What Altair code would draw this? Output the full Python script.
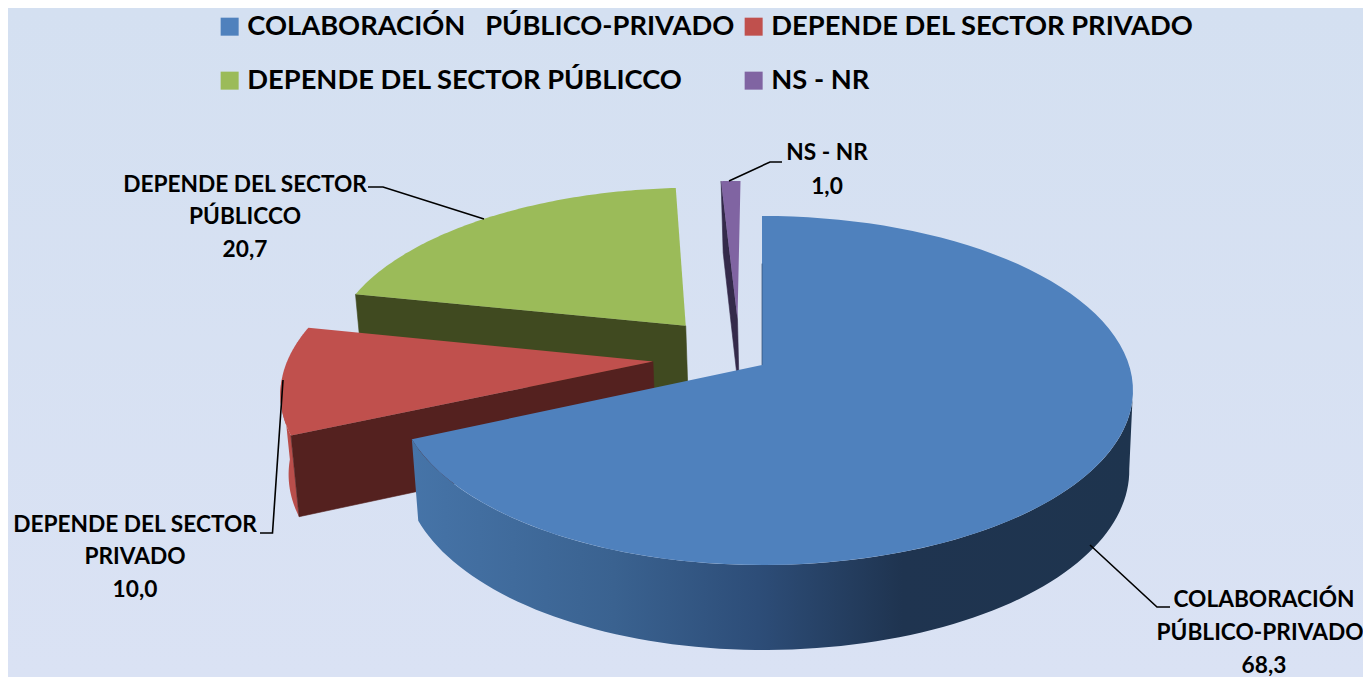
import numpy as np
import pandas as pd
import altair as alt

categories = ["COLABORACIÓN \u00a0 PÚBLICO-PRIVADO", "DEPENDE DEL SECTOR PRIVADO", "DEPENDE DEL SECTOR PÚBLICCO", "NS - NR"]
values = [68.3, 10.0, 20.7, 1.0]
colors = ["#4f81bd", "#c0504d", "#9bbb59", "#8064a2"]
dark_red = "#54211f"
dark_green = "#404a20"
dark_purple = "#342a4a"
side_red = "#b94e4b"

# slice offset (explosion) on the pie plane
explode = {0: (0.0, 0.0), 1: (-0.298, 0.02), 2: (-0.215, 0.238), 3: (-0.0695, 0.279)}
radius = {0: 1.0, 1: 1.0, 2: 0.985, 3: 1.0}

W, H = 1355, 669
AX, AY, A, B, K = 762.0, 365.0, 367.0, 170.8, 0.146

cum = np.concatenate([[0], np.cumsum(values)]) / sum(values) * 360.0


def proj(X, Y):
    w = 1 + K * Y
    return AX + A * X / w, AY - B * Y / w


def low(X, Y):
    x, y = proj(X, Y)
    return AX + (x - AX) * 0.986 + 1.5, y + 79 - 6 * Y


def rim(i, a0, a1, n=90):
    t = np.radians(np.linspace(a0, a1, n))
    ox, oy = explode[i]
    sx = np.sin(t)
    if i == 0:
        sx = np.where(sx < 0, sx * 0.983, sx)
    return ox + radius[i] * sx, oy + radius[i] * np.cos(t)


def frame(xs, ys, cat=None):
    d = pd.DataFrame({"x": xs, "y": ys, "i": np.arange(len(xs))})
    if cat is not None:
        d["cat"] = cat
    return d


x_scale = alt.Scale(domain=[8, 8 + W], nice=False, zero=False)
y_scale = alt.Scale(domain=[8 + H, 8], nice=False, zero=False)
X_ = alt.X("x:Q", scale=x_scale, axis=None)
Y_ = alt.Y("y:Q", scale=y_scale, axis=None)


def poly(d, **mark):
    return alt.Chart(d).mark_line(interpolate="linear-closed", strokeWidth=0.6, **mark).encode(
        x=X_, y=Y_, order=alt.Order("i:Q"))


fill_enc = alt.Fill(
    "cat:N",
    scale=alt.Scale(domain=categories, range=colors),
    sort=None,
    legend=alt.Legend(
        orient="none", legendX=208, legendY=5, columns=2, title=None, symbolType="square",
        values=[categories[0], categories[2], categories[1], categories[3]],
        symbolSize=324, symbolStrokeWidth=0, labelFont="Lato", labelFontWeight="bold",
        labelFontSize=27.3, labelColor="#000000", labelOffset=4, columnPadding=5, rowPadding=26,
        labelLimit=700, gridAlign="each", padding=0,
    ),
)


def top(i):
    ox, oy = explode[i]
    Xr, Yr = rim(i, cum[i], cum[i + 1])
    X = np.concatenate([[ox], Xr])
    Y = np.concatenate([[oy], Yr])
    x, y = proj(X, Y)
    d = frame(x, y, categories[i])
    return alt.Chart(d).mark_line(interpolate="linear-closed", strokeWidth=0).encode(
        x=X_, y=Y_, order=alt.Order("i:Q"), fill=fill_enc)


def cut_face(i, angle, color):
    ox, oy = explode[i]
    Xr, Yr = rim(i, angle, angle, 1)
    Xe, Ye = Xr[0], Yr[0]
    tx, ty = proj(np.array([Xe, ox]), np.array([Ye, oy]))
    bx, by = low(np.array([ox, Xe]), np.array([oy, Ye]))
    return poly(frame(np.r_[tx, bx], np.r_[ty, by]), fill=color, stroke=color)


def rim_side(i, a0, a1, fill, stroke=None):
    Xr, Yr = rim(i, a0, a1)
    tx, ty = proj(Xr, Yr)
    bx, by = low(Xr[::-1], Yr[::-1])
    return poly(frame(np.r_[tx, bx], np.r_[ty, by]), fill=fill, stroke=stroke or "transparent")


blue_gradient = alt.LinearGradient(
    gradient="linear", x1=0, x2=1, y1=0, y2=0,
    stops=[
        alt.GradientStop(offset=0.0, color="#4674a8"),
        alt.GradientStop(offset=0.28, color="#3a6290"),
        alt.GradientStop(offset=0.48, color="#2d4d78"),
        alt.GradientStop(offset=0.68, color="#1f3450"),
        alt.GradientStop(offset=1.0, color="#1e344e"),
    ],
)
background_gradient = alt.LinearGradient(
    gradient="linear", x1=0, x2=0, y1=0, y2=1,
    stops=[
        alt.GradientStop(offset=0.0, color="#d4e0f1"),
        alt.GradientStop(offset=1.0, color="#dae2f4"),
    ],
)

bg = alt.Chart(pd.DataFrame({"a": [0]})).mark_rect(color=background_gradient).encode(
    x=alt.value(0), x2=alt.value(W), y=alt.value(0), y2=alt.value(H))

# leader lines
leaders = [
    [(729, 181), (770, 162), (782, 162)],
    [(368, 187), (383, 187), (484, 219)],
    [(283, 380), (272.5, 533), (260, 533)],
    [(1090, 545), (1157, 607), (1170, 607)],
]
leader_layers = [
    alt.Chart(frame([p[0] for p in pts], [p[1] for p in pts])).mark_line(color="#000000", strokeWidth=1.6).encode(
        x=X_, y=Y_, order=alt.Order("i:Q"))
    for pts in leaders
]

# faint dark edge of the blue slice at twelve o'clock
ex, ey = proj(np.array([0.0, 0.0]), np.array([0.65, 0.0]))
blue_edge = alt.Chart(frame(ex, ey)).mark_line(color="#2f4d74", strokeWidth=1.0, opacity=0.7).encode(
    x=X_, y=Y_, order=alt.Order("i:Q"))


def fmt(v):
    return f"{v:.1f}".replace(".", ",")


label_rows = pd.DataFrame([
    {"x": 827, "y": 153, "t": "NS - NR"},
    {"x": 827, "y": 187, "t": fmt(values[3])},
    {"x": 245, "y": 185, "t": "DEPENDE DEL SECTOR"},
    {"x": 245, "y": 217, "t": "PÚBLICCO"},
    {"x": 245, "y": 250, "t": fmt(values[2])},
    {"x": 135, "y": 525, "t": "DEPENDE DEL SECTOR"},
    {"x": 135, "y": 557, "t": "PRIVADO"},
    {"x": 135, "y": 590, "t": fmt(values[1])},
    {"x": 1264, "y": 600, "t": "COLABORACIÓN"},
    {"x": 1260, "y": 633, "t": "PÚBLICO-PRIVADO"},
    {"x": 1264, "y": 666, "t": fmt(values[0])},
])
labels = alt.Chart(label_rows).mark_text(
    font="Lato", fontWeight="bold", fontSize=22.7, color="#000000", align="center", baseline="middle"
).encode(x=X_, y=Y_, text="t:N")

chart = alt.layer(
    bg,
    # green
    cut_face(2, cum[2], dark_green),
    top(2),
    # red
    rim_side(1, cum[1], cum[1] + 18, side_red),
    cut_face(1, cum[1], dark_red),
    top(1),
    # purple
    cut_face(3, cum[3], dark_purple),
    top(3),
    # blue
    rim_side(0, 98, cum[1], blue_gradient),
    top(0),
    blue_edge,
    *leader_layers,
    labels,
).properties(
    width=W, height=H, padding=0, autosize=alt.AutoSizeParams(type="none"),
).configure_view(stroke=None)

chart.save("out.html", embed_options={"renderer": "svg", "actions": False})
